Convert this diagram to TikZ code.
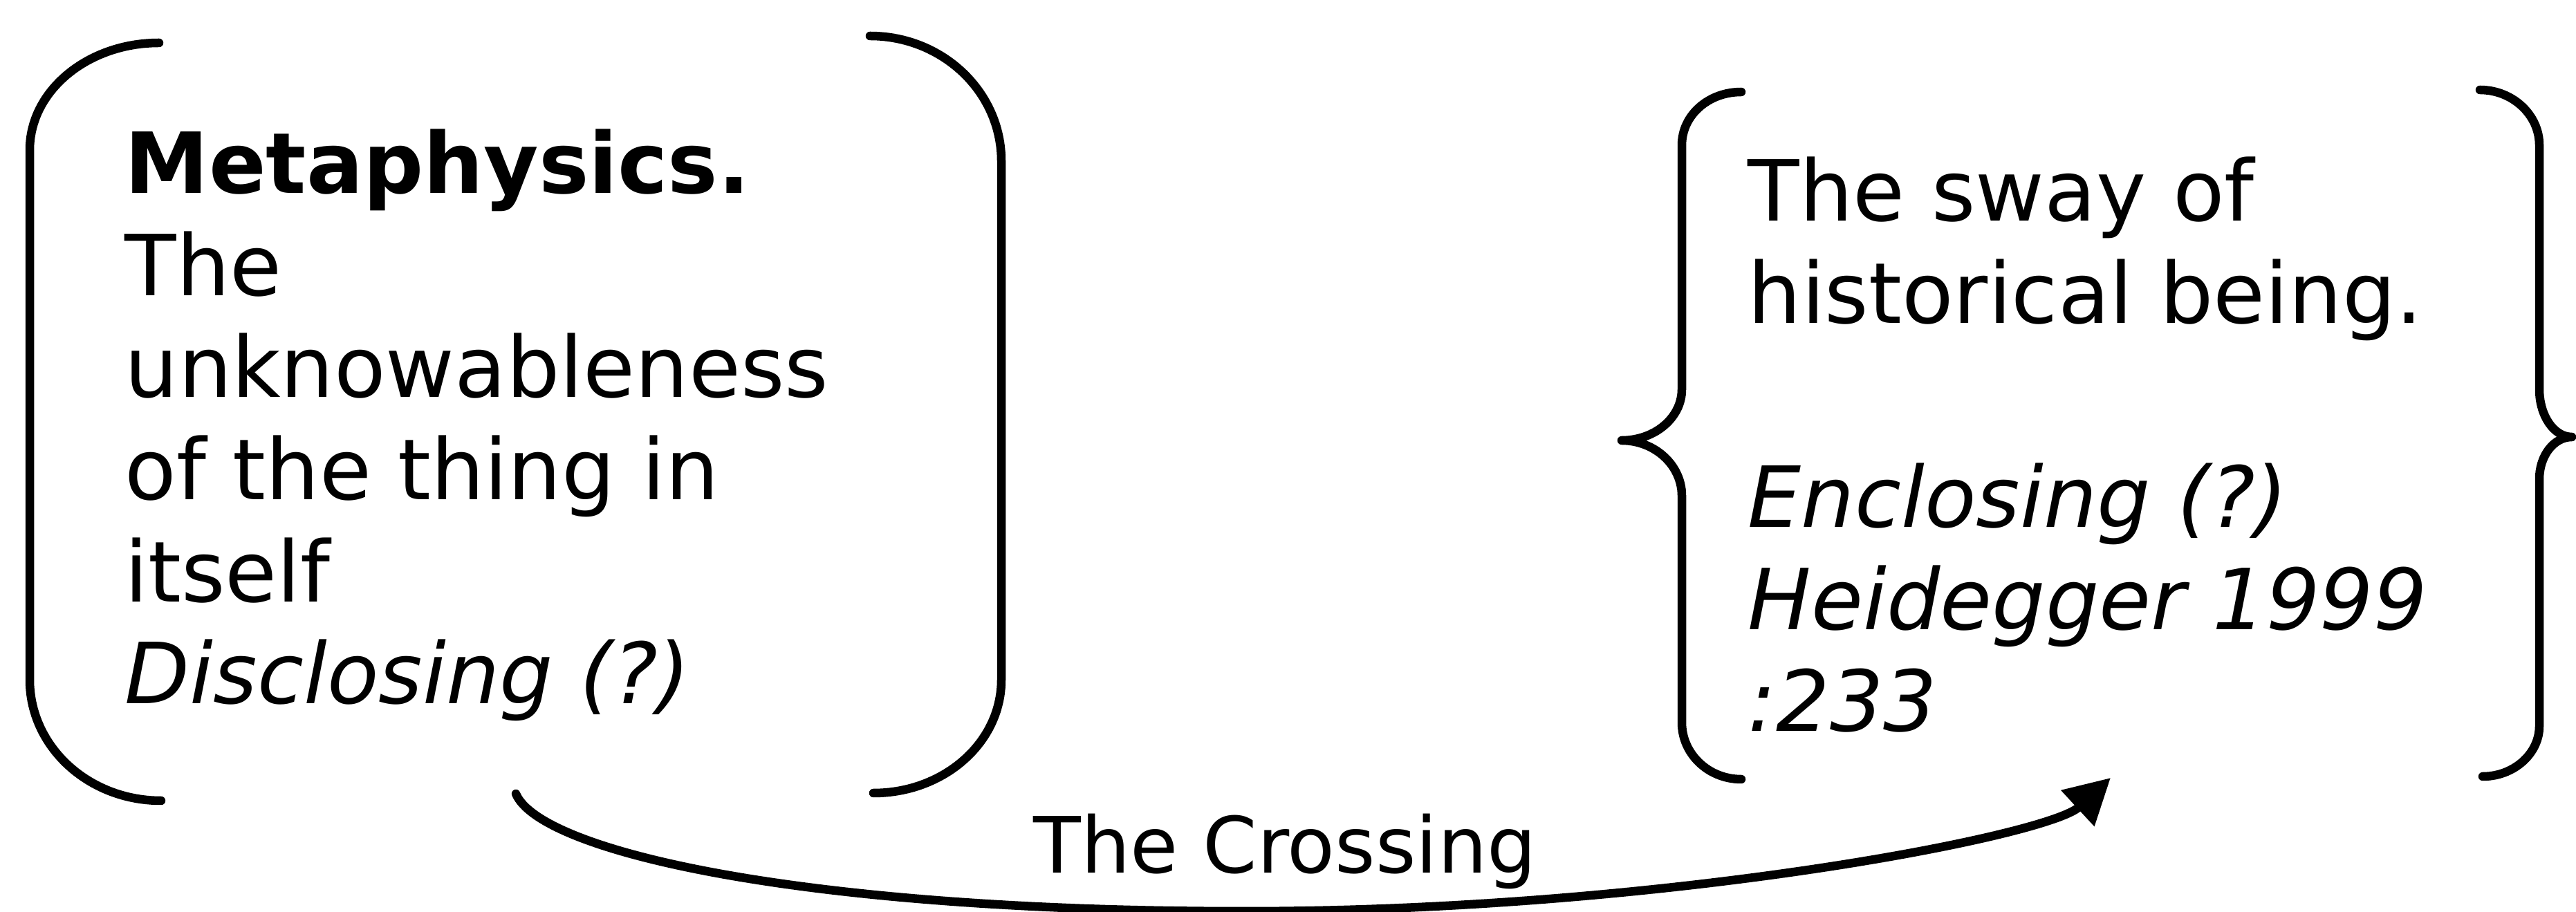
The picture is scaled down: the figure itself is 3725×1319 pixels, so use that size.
\documentclass[tikz,border=0pt]{standalone}
\usepackage{fontspec}
\setmainfont{DejaVu Sans}
\usetikzlibrary{arrows.meta}
\begin{document}
\begin{tikzpicture}[x=0.1mm,y=-0.1mm,
  bracket/.style={line width=1.25mm, line cap=round, line join=round},
  blocktext/.style={anchor=base west, inner sep=0pt, font=\fontsize{34.7}{41.97}\selectfont},
  crosslabel/.style={anchor=base west, inner sep=0pt, font=\fontsize{32}{38}\selectfont},
  crossarrow/.style={line width=1.25mm, line cap=round, -{Triangle[length=6.5mm,width=6.8mm]}}]
\useasboundingbox (0,0) rectangle (3725,1319);

% left round bracket pair
\draw[bracket] (230,62) .. controls (127,62) and (43,131) .. (43,217) -- (43,983)
  .. controls (43,1080) and (128,1158) .. (233,1158);
\draw[bracket] (1258,52) .. controls (1363,52) and (1448,133) .. (1448,233) -- (1448,983)
  .. controls (1448,1074) and (1365,1147) .. (1263,1147);

% right curly brace pair
\draw[bracket] (2518,133) .. controls (2470,133) and (2432,167) .. (2432,210) -- (2432,563)
  .. controls (2432,604) and (2393,637) .. (2345,637)
  .. controls (2393,637) and (2432,673) .. (2432,717) -- (2432,1045)
  .. controls (2432,1090) and (2470,1127) .. (2518,1127);
\draw[bracket] (3586,130) .. controls (3633,130) and (3672,166) .. (3672,210) -- (3672,563)
  .. controls (3672,601) and (3693,632) .. (3719,632)
  .. controls (3693,632) and (3672,659) .. (3672,693) -- (3672,1050)
  .. controls (3672,1090) and (3635,1123) .. (3590,1123);

% texts
\node[blocktext] (metaphysics) at (180,280) {\begin{tabular}[t]{@{}l@{}}
\textbf{Metaphysics.}\\
The\\
unknowableness\\
of the thing in\\
itself\\
\textit{Disclosing (?)}
\end{tabular}};

\node[blocktext] (sway) at (2527,320) {\begin{tabular}[t]{@{}l@{}}
The sway of\\
historical being.\\
\\
\textit{Enclosing (?)}\\
\textit{Heidegger 1999}\\
\textit{:233}
\end{tabular}};

\node[crosslabel] (crossing) at (1494,1263) {The Crossing};

% connector
\coordinate (crossstart) at (746,1148);
\coordinate (crossend) at (3052,1125);
\draw[crossarrow] (crossstart) .. controls (780,1230) and (1150,1318) .. (1800,1318)
  .. controls (2400,1318) and (2960,1210) .. (crossend);
\end{tikzpicture}
\end{document}
